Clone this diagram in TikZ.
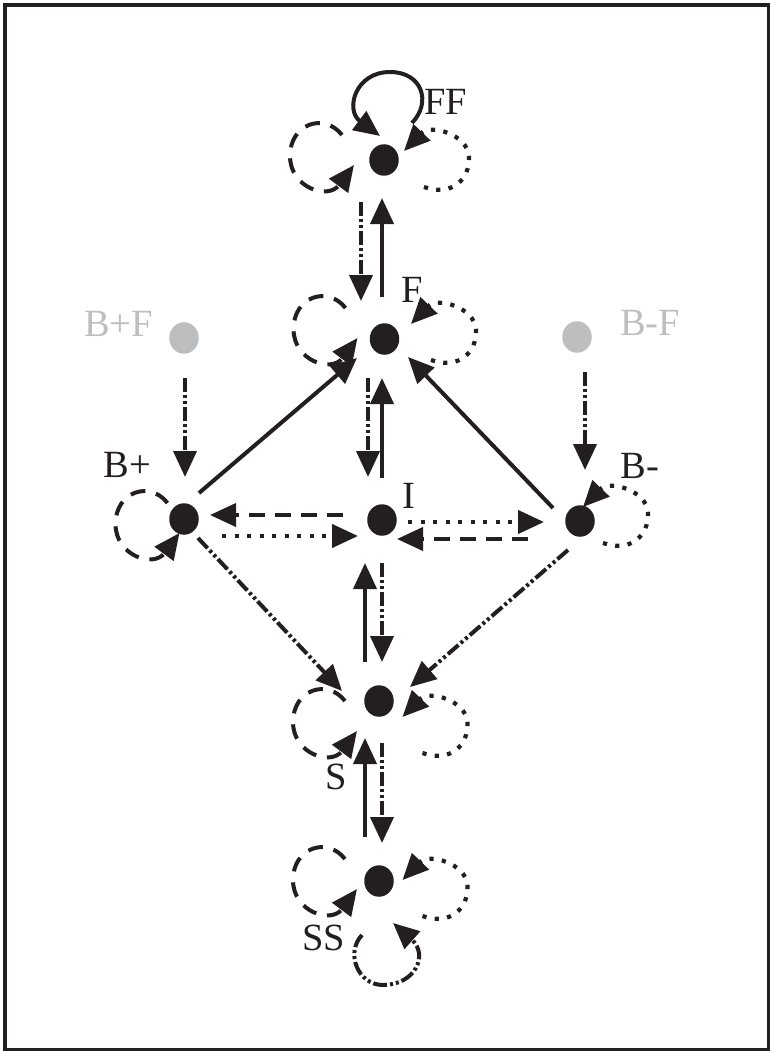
\documentclass[tikz,border=0pt]{standalone}
\usepackage{fontspec}
\setmainfont{Liberation Serif}
\usetikzlibrary{arrows.meta,calc,shapes.geometric}
\definecolor{ink}{RGB}{35,31,32}
\definecolor{pale}{RGB}{189,190,192}
\begin{document}
\begin{tikzpicture}[x=1pt,y=-1pt,
  dot/.style={ellipse,fill=ink,draw=none,minimum width=29.5pt,minimum height=31.5pt,inner sep=0pt},
  ghost/.style={dot,fill=pale},
  lbl/.style={anchor=base,inner sep=0pt,text=ink,font=\fontsize{38.5}{40}\selectfont},
  glbl/.style={lbl,text=pale},
  edge/.style={draw=ink,line width=4pt,-{Triangle[length=26pt,width=23pt]}},
  solidline/.style={edge},
  dashline/.style={edge,dash pattern=on 16pt off 10pt},
  dotline/.style={edge,line width=4.2pt,dash pattern=on 4.2pt off 8.3pt},
  ddline/.style={edge,dash pattern=on 14pt off 3pt on 3pt off 3pt on 3pt off 3pt},
  leftloop/.pic={\draw[dashline,dash pattern=on 15pt off 11pt] (20,-21) .. controls (2,-44) and (-32,-32) .. (-32,0) .. controls (-32,32) and (6,44) .. (32,9);},
  rightloop/.pic={\draw[dotline] (-16,28) .. controls (12,38) and (30,20) .. (29,-2) .. controls (28,-25) and (-10,-35) .. (-36,-8);},
  bottomloop/.pic={\draw[ddline] (-21,-20) .. controls (-38,-2) and (-25,30) .. (0,30) .. controls (32,30) and (46,0) .. (10,-32);}
]
\useasboundingbox (0,0) rectangle (770,1051);
\draw[ink,line width=3.5pt] (5,5) rectangle (768.5,1049.5);

% states
\node[dot] (FF) at (384,160) {};
\node[dot] (F)  at (384.5,339) {};
\node[dot] (Bp) at (184,519) {};
\node[dot] (I)  at (382,520) {};
\node[dot] (Bm) at (580,521) {};
\node[dot] (S)  at (379,701) {};
\node[dot] (SS) at (379,881) {};
\node[ghost] (BpF) at (184,338) {};
\node[ghost] (BmF) at (577,337) {};

% labels
\node[lbl] (tFF) at (445.5,115) {FF};
\node[lbl] (tF)  at (412,302) {F};
\node[lbl] (tBp) at (127.5,477) {B+};
\node[lbl] (tI)  at (408.5,508) {I};
\node[lbl] (tBm) at (640,478) {B-};
\node[lbl] (tS)  at (336.5,789) {S};
\node[lbl] (tSS) at (324,950) {SS};
\node[glbl] (tBpF) at (118.5,336) {B+F};
\node[glbl] (tBmF) at (650,335) {B-F};

% vertical pairs
\draw[ddline]    ($(FF)+(-23,42)$) -- ($(F)+(-23.5,-38)$);
\draw[solidline] ($(F)+(-2.5,-42)$) -- ($(FF)+(-2,38)$);
\draw[ddline]    ($(F)+(-16.5,39)$) -- ($(I)+(-14,-43)$);
\draw[solidline] ($(I)+(0,-42)$) -- ($(F)+(-2.5,39)$);
\draw[ddline]    ($(I)+(0,43)$) -- ($(S)+(3,-39)$);
\draw[solidline] ($(S)+(-14,-39)$) -- ($(I)+(-17,43)$);
\draw[ddline]    ($(S)+(3,42)$) -- ($(SS)+(3,-38)$);
\draw[solidline] ($(SS)+(-14,-44)$) -- ($(S)+(-14,37)$);
\draw[ddline]    ($(BpF)+(1,40)$) -- ($(Bp)+(1,-42)$);
\draw[ddline]    ($(BmF)+(8,35)$) -- ($(Bm)+(5,-51)$);

% diagonals
\draw[solidline] ($(Bp)+(15,-26)$) -- ($(F)+(-27.5,19)$);
\draw[solidline] ($(Bm)+(-27,-13)$) -- ($(F)+(23.5,18)$);
\draw[ddline]    ($(Bp)+(14,19)$) -- ($(S)+(-37,-10)$);
\draw[ddline]    ($(Bm)+(-12,29)$) -- ($(S)+(31,-14)$);

% horizontals
\draw[dashline] ($(I)+(-39,-5)$) -- ($(Bp)+(26,-4)$);
\draw[dotline]  ($(Bp)+(38,17)$) -- ($(I)+(-24,16)$);
\draw[dotline]  ($(I)+(26,2)$) -- ($(Bm)+(-36,1)$);
\draw[dashline] ($(Bm)+(-52,18)$) -- ($(I)+(15,19)$);

% self loops
\draw[solidline] ($(FF)+(28,-37)$) .. controls ($(FF)+(48,-58)$) and ($(FF)+(38,-88)$) .. ($(FF)+(6,-88)$)
   .. controls ($(FF)+(-29,-88)$) and ($(FF)+(-39,-50)$) .. ($(FF)+(-4,-24)$);
\pic at ($(FF)+(-62,-4)$) {leftloop};
\pic at ($(F)+(-59,-10)$) {leftloop};
\pic at ($(Bp)+(-36.5,5)$) {leftloop};
\pic at ($(S)+(-54,21)$) {leftloop};
\pic at ($(SS)+(-54,-1)$) {leftloop};
\pic at ($(FF)+(56,-1)$) {rightloop};
\pic at ($(F)+(62.5,-7)$) {rightloop};
\pic at ($(Bm)+(39,-6)$) {rightloop};
\pic at ($(S)+(59.5,24)$) {rightloop};
\pic at ($(SS)+(59.5,7)$) {rightloop};
\pic at ($(SS)+(4,74)$) {bottomloop};
\end{tikzpicture}
\end{document}
